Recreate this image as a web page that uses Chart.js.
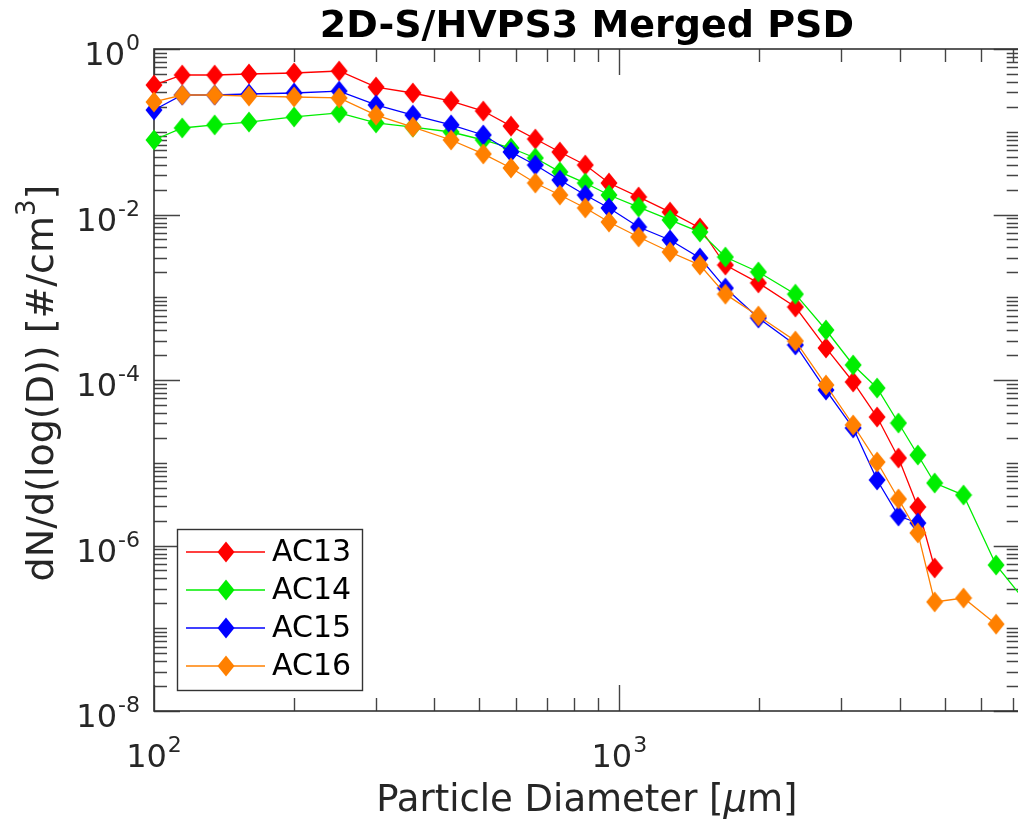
<!DOCTYPE html>
<html>
<head>
<meta charset="utf-8">
<script src="https://cdn.jsdelivr.net/npm/chart.js@4"></script>
<style>
  html, body { margin: 0; padding: 0; background: #fff; overflow: hidden; width: 1018px; height: 822px; }
  canvas { display: block; }
</style>
</head>
<body>
<canvas id="psd" width="1030" height="822"></canvas>
<script>
// Bin centre diameters [µm]
const diameters = [100, 115, 135, 160, 200, 250, 300, 360, 435, 510, 585, 660, 745, 845, 950,
  1100, 1285, 1490, 1690, 1990, 2390, 2780, 3180, 3580, 3980, 4380, 4760, 5490, 6450, 7600];

// dN/d(log(D)) [#/cm^3] per flight
const ac13 = [0.367, 0.485, 0.485, 0.499, 0.513, 0.542, 0.347, 0.294, 0.235, 0.178, 0.117, 0.0817, 0.0569, 0.0396, 0.0240,
  0.0163, 0.0107, 0.00687, 0.00245, 0.00149, 7.62e-4, 2.44e-4, 9.46e-5, 3.57e-5, 1.14e-5, 2.92e-6, 5.35e-7, null, null, null];
const ac14 = [0.0795, 0.111, 0.121, 0.131, 0.151, 0.169, 0.128, 0.114, 0.0993, 0.0795, 0.0636, 0.0482, 0.0327, 0.0240, 0.0172,
  0.0123, 0.00859, 0.00614, 0.00306, 0.00202, 1.09e-3, 4.02e-4, 1.52e-4, 8.0e-5, 3.02e-5, 1.24e-5, 5.69e-6, 4.07e-6, 5.81e-7, 1.85e-7];
const ac15 = [0.183, 0.278, 0.278, 0.286, 0.294, 0.310, 0.211, 0.159, 0.121, 0.0914, 0.057, 0.0396, 0.0261, 0.0172, 0.0120,
  0.00706, 0.00492, 0.00298, 0.00129, 5.61e-4, 2.65e-4, 7.57e-5, 2.63e-5, 6.19e-6, 2.27e-6, 1.87e-6, null, null, null, null];
const ac16 = [0.229, 0.278, 0.278, 0.270, 0.263, 0.256, 0.159, 0.114, 0.0795, 0.0539, 0.0365, 0.0240, 0.0172, 0.0120, 0.00811,
  0.00535, 0.00352, 0.00245, 0.00109, 5.93e-4, 2.96e-4, 8.70e-5, 2.86e-5, 1.02e-5, 3.65e-6, 1.42e-6, 2.08e-7, 2.32e-7, 1.12e-7, null];

const seriesNames = ['AC13', 'AC14', 'AC15', 'AC16'];
const seriesValues = [ac13, ac14, ac15, ac16];
const seriesColors = ['#ff0000', '#00ee00', '#0000ff', '#ff8000'];

// Axis ranges and labelled ticks
const xRange = [100, 7250];
const yRange = [1e-8, 1];
const xTickExponents = [2, 3];
const yTickExponents = [0, -2, -4, -6, -8];

const FONT = '"DejaVu Sans", "Liberation Sans", sans-serif';
const INK = '#262626';

// Tall diamond marker
function diamond(color) {
  const c = document.createElement('canvas');
  c.width = 18; c.height = 22;
  const g = c.getContext('2d');
  g.fillStyle = color;
  g.beginPath();
  g.moveTo(9, 0.5); g.lineTo(17.5, 11); g.lineTo(9, 21.5); g.lineTo(0.5, 11);
  g.closePath(); g.fill();
  return c;
}
const markers = seriesColors.map(diamond);

const datasets = seriesNames.map((name, i) => ({
  label: name,
  data: diameters.map((d, j) => ({ x: d, y: seriesValues[i][j] })),
  borderColor: seriesColors[i],
  backgroundColor: seriesColors[i],
  borderWidth: 1.3,
  pointStyle: markers[i],
  pointRadius: 9,
  tension: 0,
  clip: false,
  order: seriesNames.length - i
}));

// "10" with a raised exponent
function powerLabel(ctx, exp, x, y, align) {
  const base = '10', sup = String(exp);
  ctx.font = '32px ' + FONT;
  const wb = ctx.measureText(base).width;
  ctx.font = '22px ' + FONT;
  const ws = ctx.measureText(sup).width;
  const w = wb + ws + 1;
  const x0 = align === 'right' ? x - w : x - w / 2;
  ctx.fillStyle = INK;
  ctx.textAlign = 'left';
  ctx.textBaseline = 'alphabetic';
  ctx.font = '32px ' + FONT;
  ctx.fillText(base, x0, y);
  ctx.font = '22px ' + FONT;
  ctx.fillText(sup, x0 + wb + 1, y - 15);
}

const frame = {
  id: 'frame',
  beforeDatasetsDraw(chart) {
    const { ctx, chartArea: a, scales: { x, y } } = chart;
    ctx.save();
    ctx.strokeStyle = '#444';
    ctx.lineWidth = 1.4;
    // minor and major ticks on all four sides, pointing inward
    ctx.beginPath();
    for (let k = 2; k <= 3; k++) {
      for (let m = 1; m <= 9; m++) {
        const v = m * Math.pow(10, k);
        if (v < xRange[0] || v > xRange[1]) continue;
        const px = Math.round(x.getPixelForValue(v)) + 0.5;
        const len = m === 1 ? 26 : 13;
        ctx.moveTo(px, a.bottom); ctx.lineTo(px, a.bottom - len);
        ctx.moveTo(px, a.top); ctx.lineTo(px, a.top + len);
      }
    }
    for (let k = -8; k <= 0; k++) {
      for (let m = 1; m <= 9; m++) {
        const v = m * Math.pow(10, k);
        if (v < yRange[0] || v > yRange[1]) continue;
        const py = Math.round(y.getPixelForValue(v)) + 0.5;
        const len = (m === 1 && k % 2 === 0) ? 26 : 13;
        ctx.moveTo(a.left, py); ctx.lineTo(a.left + len, py);
        ctx.moveTo(a.right, py); ctx.lineTo(a.right - len, py);
      }
    }
    ctx.stroke();
    // axes box
    ctx.strokeStyle = '#333';
    ctx.lineWidth = 1.6;
    ctx.strokeRect(a.left, a.top, a.right - a.left, a.bottom - a.top);
    ctx.restore();
  },
  afterDraw(chart) {
    const { ctx, chartArea: a, scales: { x, y } } = chart;
    ctx.save();
    // tick labels
    xTickExponents.forEach(e => {
      powerLabel(ctx, e, x.getPixelForValue(Math.pow(10, e)), a.bottom + 56, 'center');
    });
    yTickExponents.forEach(e => {
      powerLabel(ctx, e, a.left - 14, y.getPixelForValue(Math.pow(10, e)) + 16, 'right');
    });

    // title
    ctx.fillStyle = '#000';
    ctx.textAlign = 'center';
    ctx.textBaseline = 'alphabetic';
    ctx.font = 'bold 38px ' + FONT;
    ctx.fillText('2D-S/HVPS3 Merged PSD', (a.left + a.right) / 2, 37);

    // x axis title with italic mu
    const cx = (a.left + a.right) / 2;
    const p1 = 'Particle Diameter [', p2 = '\u03bc', p3 = 'm]';
    ctx.font = '37px ' + FONT;
    const w1 = ctx.measureText(p1).width, w3 = ctx.measureText(p3).width;
    ctx.font = 'italic 37px ' + FONT;
    const w2 = ctx.measureText(p2).width;
    const sx = cx - (w1 + w2 + w3) / 2;
    ctx.fillStyle = INK;
    ctx.textAlign = 'left';
    ctx.font = '37px ' + FONT;
    ctx.fillText(p1, sx, 811);
    ctx.font = 'italic 37px ' + FONT;
    ctx.fillText(p2, sx + w1, 811);
    ctx.font = '37px ' + FONT;
    ctx.fillText(p3, sx + w1 + w2, 811);

    // y axis title, rotated, with superscript 3
    const yl = 'dN/d(log(D)) [#/cm', ysup = '3', yend = ']';
    ctx.font = '38px ' + FONT;
    const wa = ctx.measureText(yl).width, wc = ctx.measureText(yend).width;
    ctx.font = '26px ' + FONT;
    const wb = ctx.measureText(ysup).width;
    const total = wa + wb + wc;
    ctx.translate(53, (a.top + a.bottom) / 2 + 3);
    ctx.rotate(-Math.PI / 2);
    const tx = -total / 2;
    ctx.font = '38px ' + FONT;
    ctx.fillText(yl, tx, 0);
    ctx.font = '26px ' + FONT;
    ctx.fillText(ysup, tx + wa, -18);
    ctx.font = '38px ' + FONT;
    ctx.fillText(yend, tx + wa + wb, 0);
    ctx.restore();

    // legend box
    ctx.save();
    const lx = 177, ly = 529, lw = 185, lh = 161;
    ctx.fillStyle = '#fff';
    ctx.fillRect(lx, ly, lw, lh);
    ctx.strokeStyle = '#333';
    ctx.lineWidth = 1.4;
    ctx.strokeRect(lx + 0.5, ly + 0.5, lw, lh);
    chart.data.datasets.forEach((ds, i) => {
      const rowY = ly + 23 + i * 38;
      ctx.strokeStyle = ds.borderColor;
      ctx.lineWidth = ds.borderWidth;
      ctx.beginPath();
      ctx.moveTo(lx + 9, rowY); ctx.lineTo(lx + 88, rowY);
      ctx.stroke();
      const img = ds.pointStyle;
      ctx.drawImage(img, lx + 49 - img.width / 2, rowY - img.height / 2);
      ctx.fillStyle = '#000';
      ctx.font = '30px ' + FONT;
      ctx.textAlign = 'left';
      ctx.textBaseline = 'middle';
      ctx.fillText(ds.label, lx + 95, rowY + 1);
    });
    ctx.restore();
  }
};

new Chart(document.getElementById('psd'), {
  type: 'line',
  data: { datasets },
  options: {
    responsive: false,
    animation: false,
    events: [],
    layout: { padding: { left: 154, top: 49, right: 6, bottom: 111 } },
    plugins: { legend: { display: false }, tooltip: { enabled: false }, title: { display: false } },
    scales: {
      x: { type: 'logarithmic', min: xRange[0], max: xRange[1], display: false },
      y: { type: 'logarithmic', min: yRange[0], max: yRange[1], display: false }
    }
  },
  plugins: [frame]
});
</script>
</body>
</html>
